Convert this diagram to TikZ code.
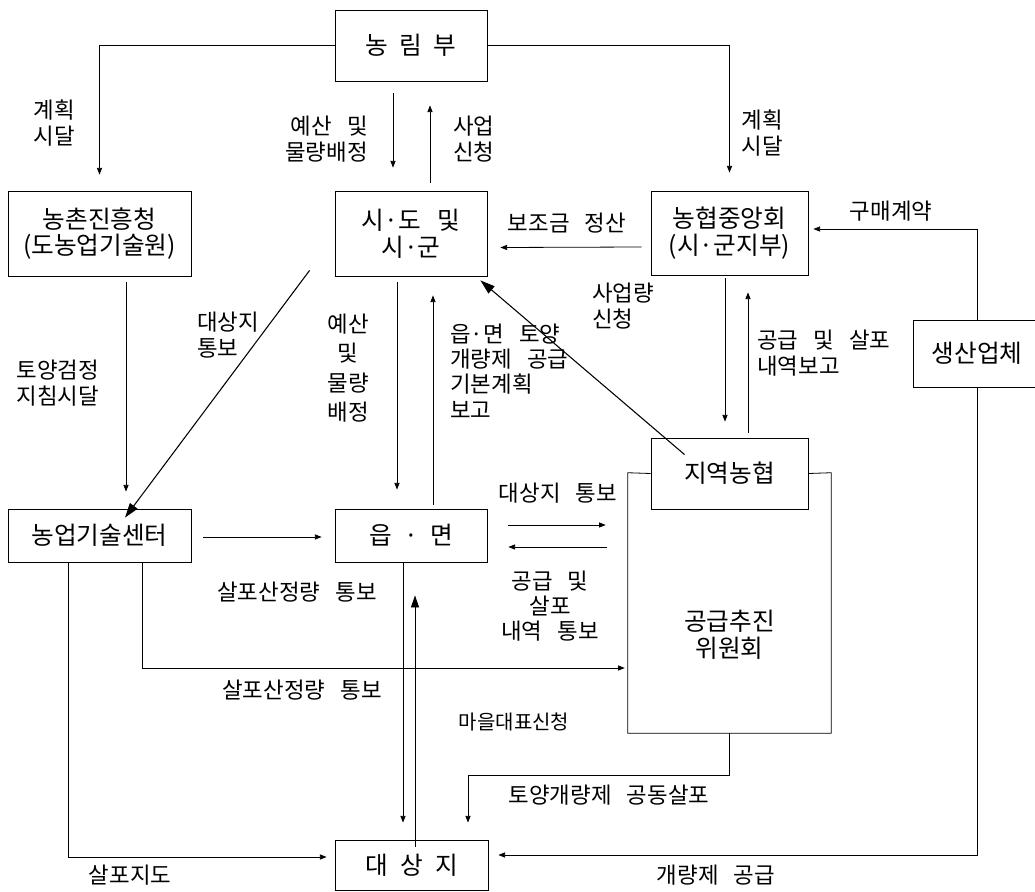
\documentclass[tikz,border=0pt]{standalone}
\usepackage{fontspec}
\setmainfont{Noto Sans CJK KR}[WordSpace=3]
\usetikzlibrary{arrows.meta,calc}
\begin{document}
\begin{tikzpicture}[x=0.75pt,y=-0.75pt,
  box/.style={draw, line width=0.6pt, inner sep=0pt, align=center, font=\fontsize{18.5}{20}\selectfont},
  boxtext/.style={inner sep=0pt, align=center, font=\fontsize{18.5}{20}\selectfont},
  lbl/.style={inner sep=0pt, font=\fontsize{16.8}{19}\selectfont},
  conn/.style={line width=0.6pt, -{Triangle[length=5pt,width=3.8pt]}},
  bigconn/.style={line width=0.8pt, -{Triangle[length=11pt,width=7pt]}},
  upbig/.style={line width=0.6pt, -{Triangle[length=9pt,width=6pt]}},
  outline/.style={line width=0.6pt}
]
\useasboundingbox (0,0) rectangle (1035,892);

% boxes
\node[box, minimum width=114pt, minimum height=53.25pt] (nong) at (411,45.5) {농\hspace{0.45em}림\hspace{0.45em}부};
\node[box, minimum width=137.25pt, minimum height=63.75pt] (rda) at (99.5,233.5) {농촌진흥청\\(도농업기술원)};
\node[box, minimum width=114pt, minimum height=63.75pt] (sido) at (411,233.5) {시·도 및\\시·군};
\node[box, minimum width=117.75pt, minimum height=63pt] (nh) at (729.5,233) {농협중앙회\\(시·군지부)};
\node[box, minimum width=96pt, minimum height=50.25pt] (maker) at (977,353.5) {생산업체};
\node[box, minimum width=137.25pt, minimum height=39.75pt] (atc) at (99.5,535.5) {농업기술센터};
\node[box, minimum width=114pt, minimum height=39.75pt] (eup) at (411,535.5) {읍\hspace{0.5em}·\hspace{0.5em}면};
\node[box, minimum width=117.75pt, minimum height=53.25pt] (local) at (729.5,473.5) {지역농협};
\node[inner sep=0pt, minimum width=152.25pt, minimum height=195pt] (comm) at (729.5,603) {};
\node[boxtext] (commtext) at (729.5,635) {공급추진\\위원회};
\node[box, minimum width=114.75pt, minimum height=37.5pt] (target) at (411.5,865) {대\hspace{0.5em}상\hspace{0.5em}지};

\draw[outline] (local.west) -- (comm.north west) -- (comm.south west) -- (comm.south east) -- (comm.north east) -- (local.east);

% connectors
\draw[conn, shorten >=12pt] (nong.west) -| (rda.north);
\draw[conn, shorten >=13.5pt] (nong.east) -| (nh.north);
\draw[conn] ($(nong.south)+(-18,12)$) -- ($(sido.north)+(-18,-23)$);
\draw[conn] ($(sido.north)+(19,-8)$) -- ($(nong.south)+(19,24)$);
\draw[conn] ($(nh.west)+(-9,14)$) -- ($(sido.east)+(13,14)$);
\draw[conn] (maker.north) |- ($(nh.east)+(5,-4)$);
\draw[conn] ($(nh.south)+(-4.5,3)$) -- ($(local.north)+(-4.5,-16)$);
\draw[conn] ($(local.north)+(18.5,-5)$) -- ($(nh.south)+(18.5,17)$);
\draw[conn] ($(rda.south)+(26.5,6)$) -- ($(atc.north)+(26.5,-17)$);
\draw[bigconn] ($(sido.south west)+(-25,-6)$) -- ($(atc.north)+(25.5,9)$);
\draw[conn] ($(sido.south)+(-14,6)$) -- ($(eup.north)+(-14,-19)$);
\draw[conn] ($(eup.north)+(22,-4)$) -- ($(sido.south)+(22,19)$);
\draw[bigconn] ($(local.north west)+(34,17)$) -- ($(sido.south east)+(-7,4)$);
\draw[conn] ($(atc.east)+(12,1.5)$) -- ($(eup.west)+(-13,1.5)$);
\draw[conn] ($(eup.east)+(21,-10.5)$) -- ($(comm.west|-eup.east)+(-22,-10.5)$);
\draw[conn] ($(comm.west|-eup.east)+(-21,11.5)$) -- ($(eup.east)+(21,11.5)$);
\draw[conn] ($(atc.south west)+(61,0)$) |- ($(target.west)+(-8,-8)$);
\draw[conn] ($(atc.south west)+(135,0)$) |- ($(comm.west)+(-3,65)$);
\draw[conn] ($(eup.south)+(-8,0)$) -- ($(target.north)+(-8.5,-17)$);
\draw[upbig] ($(target.north)+(3.5,7)$) -- ($(eup.south)+(4,33)$);
\draw[conn] (comm.south) -- ++(0,42) -| ($(target.north)+(56.5,-17)$);
\draw[conn] (maker.south) |- ($(target.east)+(10,-10)$);

% labels
\node[lbl, align=center] (l1) at (54,123) {계획\\시달};
\node[lbl, align=center] (l2) at (762,133) {계획\\시달};
\node[lbl, align=right, anchor=east] (l3) at (368,139) {예산 및\\물량배정};
\node[lbl, align=left, anchor=west] (l4) at (453,139) {사업\\신청};
\node[lbl] (l5) at (567,223) {보조금 정산};
\node[lbl] (l6) at (891,211) {구매계약};
\node[lbl, align=left, anchor=west] (l7) at (592,306) {사업량\\신청};
\node[lbl, align=left, anchor=west] (l8) at (757,353) {공급 및 살포\\내역보고};
\node[lbl, align=center] (l9) at (58,383) {토양검정\\지침시달};
\node[lbl, align=left, anchor=west] (l10) at (197,335) {대상지\\통보};
\node[lbl, align=center, font=\fontsize{16.8}{22}\selectfont] (l11) at (348,368) {예산\\및\\물량\\배정};
\node[lbl, align=left, anchor=west] (l12) at (450,371) {읍·면 토양\\개량제 공급\\기본계획\\보고};
\node[lbl] (l13) at (558,493) {대상지 통보};
\node[lbl, align=center] (l14) at (550,606) {공급 및\\살포\\내역 통보};
\node[lbl] (l15) at (297,592) {살포산정량 통보};
\node[lbl] (l16) at (302,690) {살포산정량 통보};
\node[lbl, font=\fontsize{15}{18}\selectfont] (l17) at (514,722) {마을대표신청};
\node[lbl] (l18) at (609,795) {토양개량제 공동살포};
\node[lbl] (l19) at (130,875) {살포지도};
\node[lbl] (l20) at (716,875) {개량제 공급};
\end{tikzpicture}
\end{document}
